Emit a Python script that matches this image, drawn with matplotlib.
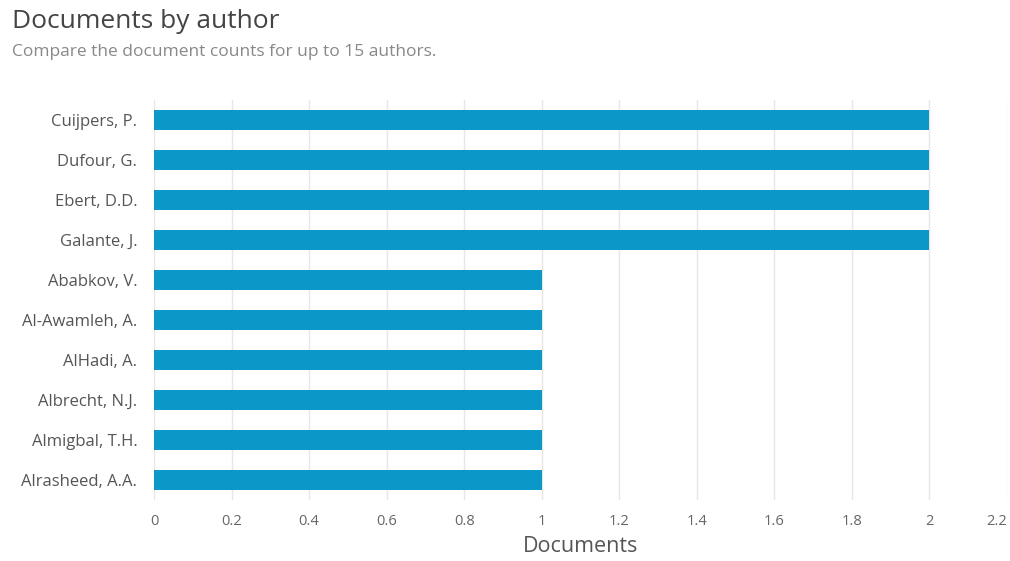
import matplotlib
matplotlib.use('Agg')
import matplotlib.pyplot as plt

plt.rcParams['font.family'] = ['Open Sans', 'DejaVu Sans']

# Data
authors = ['Cuijpers, P.', 'Dufour, G.', 'Ebert, D.D.', 'Galante, J.',
           'Ababkov, V.', 'Al-Awamleh, A.', 'AlHadi, A.', 'Albrecht, N.J.',
           'Almigbal, T.H.', 'Alrasheed, A.A.']
documents = [2, 2, 2, 2, 1, 1, 1, 1, 1, 1]
x_ticks = [0, 0.2, 0.4, 0.6, 0.8, 1, 1.2, 1.4, 1.6, 1.8, 2, 2.2]
x_tick_labels = ['0', '0.2', '0.4', '0.6', '0.8', '1', '1.2', '1.4', '1.6', '1.8', '2', '2.2']

fig = plt.figure(figsize=(10.1, 5.61), dpi=100)
ax = fig.add_axes([0.1525, 0.1087, 0.8445, 0.713])

ax.barh(range(len(authors)), documents, height=0.5, color='#0b98c9', zorder=3)

ax.set_ylim(len(authors) - 0.5, -0.5)
ax.set_xlim(0, 2.2)
ax.set_yticks(range(len(authors)))
ax.set_yticklabels(authors, fontsize=12, color='#555555')
ax.set_xticks(x_ticks)
ax.set_xticklabels(x_tick_labels, fontsize=10.5, color='#666666')
ax.get_xticklabels()[-1].set_horizontalalignment('right')
ax.tick_params(axis='x', length=0, pad=10)
ax.tick_params(axis='y', length=0, pad=12)

ax.grid(axis='x', color='#e6e6e6', linewidth=1, zorder=0)
for s in ax.spines.values():
    s.set_visible(False)

ax.set_xlabel('Documents', fontsize=15.5, color='#555555', labelpad=5)

fig.text(0.012, 0.962, 'Documents by author', fontsize=19, color='#444444', va='center')
fig.text(0.012, 0.908, 'Compare the document counts for up to 15 authors.',
         fontsize=12.5, color='#888888', va='center')

plt.savefig('out.png', dpi=100)
plt.close()
